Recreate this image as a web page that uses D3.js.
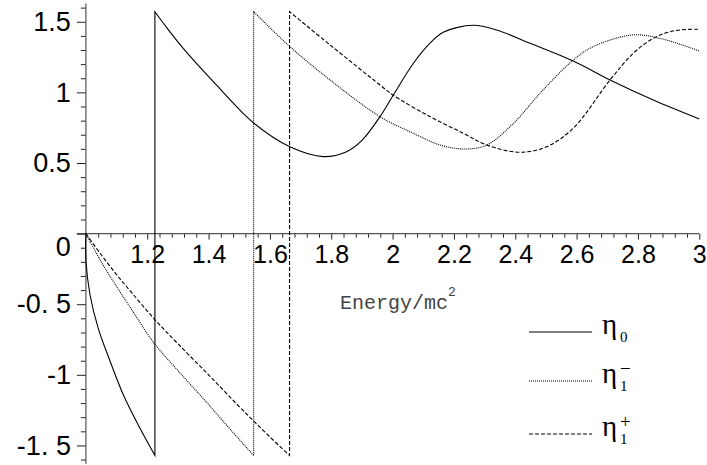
<!DOCTYPE html>
<html>
<head>
<meta charset="utf-8">
<script src="https://cdn.jsdelivr.net/npm/d3@7"></script>
<style>
  html, body { margin: 0; padding: 0; background: #fff; }
  svg { display: block; }
  .tick text { font-family: "Liberation Sans", Arial, Helvetica, sans-serif; fill: #000; }
</style>
</head>
<body>
<svg id="chart" width="707" height="465"></svg>
<script>
// 轴刻度
const xMajorTicks = [1.2, 1.4, 1.6, 1.8, 2, 2.2, 2.4, 2.6, 2.8, 3];
const xTickLabels = ["1.2", "1.4", "1.6", "1.8", "2", "2.2", "2.4", "2.6", "2.8", "3"];
const yMajorTicks = [1.5, 1, 0.5, 0, -0.5, -1, -1.5];
const yTickLabels = ["1.5", "1", "0.5", "0", "-0. 5", "-1", "-1. 5"];

// η0 (实线)
const eta0PreE = [1, 1.0003, 1.0134, 1.04, 1.079, 1.122, 1.176, 1.225];
const eta0PreV = [0, -0.196, -0.433, -0.669, -0.904, -1.141, -1.377, -1.571];
const eta0PostE = [1.225, 1.263, 1.318, 1.426, 1.546, 1.665, 1.774, 1.85, 1.9, 1.959, 2.002, 2.068, 2.122, 2.165, 2.263, 2.339, 2.448, 2.589, 2.709, 2.85, 3.0];
const eta0PostV = [1.571, 1.46, 1.31, 1.052, 0.785, 0.615, 0.545, 0.58, 0.66, 0.828, 0.98, 1.206, 1.348, 1.426, 1.475, 1.442, 1.348, 1.222, 1.088, 0.946, 0.812];

// η1- (点线)
const eta1mPreE = [1, 1.05, 1.1, 1.15, 1.222, 1.3, 1.4, 1.47, 1.547];
const eta1mPreV = [0, -0.2, -0.375, -0.54, -0.775, -0.97, -1.21, -1.385, -1.571];
const eta1mPostE = [1.547, 1.665, 1.796, 1.959, 2.068, 2.155, 2.236, 2.307, 2.394, 2.481, 2.589, 2.654, 2.785, 2.883, 3.0];
const eta1mPostV = [1.571, 1.324, 1.088, 0.828, 0.71, 0.627, 0.599, 0.627, 0.781, 0.994, 1.229, 1.324, 1.407, 1.376, 1.293];

// η1+ (虚线)
const eta1pPreE = [1, 1.05, 1.1, 1.15, 1.222, 1.3, 1.4, 1.5, 1.546, 1.6, 1.664];
const eta1pPreV = [0, -0.15, -0.29, -0.42, -0.602, -0.78, -1.0, -1.225, -1.325, -1.44, -1.571];
const eta1pPostE = [1.664, 1.796, 1.959, 2.002, 2.122, 2.231, 2.307, 2.415, 2.502, 2.589, 2.709, 2.785, 2.85, 2.915, 2.991, 3.0];
const eta1pPostV = [1.571, 1.336, 1.052, 0.98, 0.828, 0.71, 0.627, 0.576, 0.615, 0.746, 1.088, 1.277, 1.383, 1.435, 1.447, 1.446];

const svg = d3.select("#chart");

// 比例尺
const x = d3.scaleLinear().domain([1, 3]).range([85.9, 699.3]);
const y = d3.scaleLinear().domain([-1.63, 1.63]).range([463.8, 3.4]);

// 次刻度
const xMinor = d3.range(1.04, 3.001, 0.04).filter(v => Math.abs(v * 5 - Math.round(v * 5)) > 1e-6);
const yMinor = d3.range(-16, 17).map(i => i / 10).filter(v => Math.abs(v * 2 - Math.round(v * 2)) > 1e-6);

// x 轴 (在 y=0)
const xAxisG = svg.append("g").attr("transform", `translate(0,${y(0)})`);
xAxisG.append("g")
    .call(d3.axisBottom(x).tickValues(xMinor).tickSize(4).tickSizeOuter(0).tickFormat(""))
    .call(g => g.select(".domain").remove());
xAxisG.append("g")
    .call(d3.axisBottom(x).tickValues(xMajorTicks).tickSize(6).tickSizeOuter(0).tickPadding(6)
        .tickFormat((d, i) => xTickLabels[i]))
    .call(g => g.select(".domain").remove())
    .call(g => g.selectAll("text").style("font-size", "25px"));
xAxisG.append("line")
    .attr("x1", x(1) - 9).attr("x2", x(3))
    .attr("stroke", "#555").attr("stroke-width", 1.2);

// y 轴
const yAxisG = svg.append("g").attr("transform", `translate(${x(1)},0)`);
yAxisG.append("g")
    .call(d3.axisLeft(y).tickValues(yMinor).tickSize(5).tickSizeOuter(0).tickFormat(""))
    .call(g => g.select(".domain").remove());
yAxisG.append("g")
    .call(d3.axisLeft(y).tickValues(yMajorTicks).tickSize(9).tickSizeOuter(0).tickPadding(6)
        .tickFormat((d, i) => yTickLabels[i]))
    .call(g => g.select(".domain").remove())
    .call(g => g.selectAll("text").style("font-size", "27px"))
    .call(g => g.selectAll(".tick").filter(d => d === 0).select("text").attr("dy", "0.8em"));
yAxisG.append("line")
    .attr("y1", y(1.63)).attr("y2", y(-1.63))
    .attr("stroke", "#555").attr("stroke-width", 1.2);

svg.selectAll(".tick line").attr("stroke", "#222");

// 曲线
const line = d3.line().x(d => x(d[0])).y(d => y(d[1])).curve(d3.curveCatmullRom.alpha(0.5));

function seriesPath(preE, preV, postE, postV) {
    const pre = preE.map((e, i) => [e, preV[i]]);
    const post = postE.map((e, i) => [e, postV[i]]);
    return line(pre) + line(post).replace(/^M/, "L");
}

const series = [
    { d: seriesPath(eta0PreE, eta0PreV, eta0PostE, eta0PostV), dash: null },
    { d: seriesPath(eta1mPreE, eta1mPreV, eta1mPostE, eta1mPostV), dash: "1,1" },
    { d: seriesPath(eta1pPreE, eta1pPreV, eta1pPostE, eta1pPostV), dash: "4,2" }
];

svg.append("g").selectAll("path")
    .data(series)
    .enter()
    .append("path")
    .attr("d", d => d.d)
    .attr("fill", "none")
    .attr("stroke", "#000")
    .attr("stroke-width", 1.1)
    .attr("stroke-dasharray", d => d.dash);

// 坐标轴标题
const xTitle = svg.append("text")
    .attr("x", 340).attr("y", 309)
    .attr("font-family", "'Liberation Mono', 'Courier New', monospace")
    .attr("font-size", "20px")
    .attr("fill", "#444")
    .text("Energy/mc");
xTitle.append("tspan")
    .attr("dy", -13).attr("font-size", "13px")
    .text("2");

// 图例
const legendItems = [
    { y: 332, dash: null, sub: "0", sup: "" },
    { y: 381, dash: "1,1", sub: "1", sup: "−" },
    { y: 434, dash: "4,2", sub: "1", sup: "+" }
];

const legend = svg.append("g");
legendItems.forEach(item => {
    legend.append("line")
        .attr("x1", 529).attr("x2", 592)
        .attr("y1", item.y).attr("y2", item.y)
        .attr("stroke", "#000").attr("stroke-width", 1.1)
        .attr("stroke-dasharray", item.dash);
    legend.append("text")
        .attr("x", 602).attr("y", item.y + 2)
        .attr("font-family", "'Liberation Serif', 'Times New Roman', serif")
        .attr("font-size", "29px")
        .attr("fill", "#000")
        .text("η");
    legend.append("text")
        .attr("x", 620).attr("y", item.y + 10)
        .attr("font-family", "'Liberation Serif', 'Times New Roman', serif")
        .attr("font-size", "15px")
        .text(item.sub);
    if (item.sup) {
        legend.append("text")
            .attr("x", 620).attr("y", item.y - 6)
            .attr("font-family", "'Liberation Serif', 'Times New Roman', serif")
            .attr("font-size", "19px")
            .text(item.sup);
    }
});
</script>
</body>
</html>
